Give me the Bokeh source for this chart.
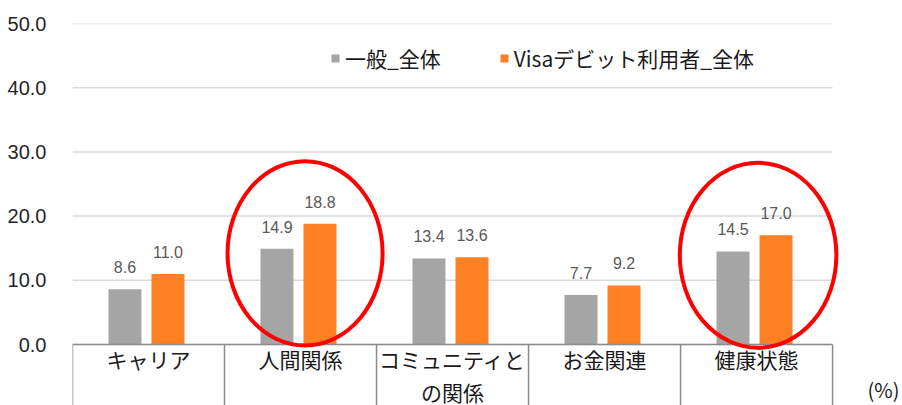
from bokeh.plotting import figure
from bokeh.models import (ColumnDataSource, FixedTicker, Legend, LegendItem,
                          Label, NumeralTickFormatter)
from bokeh.core.properties import value
from bokeh.embed import file_html
from bokeh.resources import INLINE

# ---- data ----
categories = ["キャリア", "人間関係", "コミュニティと\nの関係", "お金関連", "健康状態"]
general = [8.6, 14.9, 13.4, 7.7, 14.5]
visa = [11.0, 18.8, 13.6, 9.2, 17.0]
series_names = ["一般_全体", "Visaデビット利用者_全体"]
y_ticks = [0, 10, 20, 30, 40, 50]
highlight_idx = [1, 4]
highlight_cy = [14.2, 13.9]
highlight_w = [1.02, 1.03]
highlight_h = [28.7, 28.8]
highlight_dx = [0.03, 0.01]

GRAY = "#A5A5A5"
ORANGE = "#FD8022"
JP = "Noto Sans CJK JP"
NUM = "Liberation Sans"
Y_BOTTOM = -9.5   # room for the category boxes under the zero line
X_RIGHT = 4.96    # room for the "(%)" note right of the last box

n = len(categories)
idx = list(range(n))
left_edge, right_edge = -0.5, n - 0.5
off_g, off_v = -0.155, 0.128
bw = 0.217

src = ColumnDataSource(dict(
    xg=[i + off_g for i in idx], xv=[i + off_v for i in idx],
    g=general, v=visa,
    gl=[f"{x:.1f}" for x in general], vl=[f"{x:.1f}" for x in visa],
))

p = figure(width=902, height=405, x_range=(left_edge, X_RIGHT),
           y_range=(Y_BOTTOM, 50), output_backend="svg", toolbar_location=None,
           x_axis_location=None,
           min_border_left=72, min_border_right=0, min_border_top=23,
           min_border_bottom=0)
p.outline_line_color = None
p.background_fill_color = "white"
p.xgrid.grid_line_color = None
p.ygrid.grid_line_color = None

# horizontal gridlines over the category span only
p.segment(x0=[left_edge] * len(y_ticks), y0=y_ticks,
          x1=[right_edge] * len(y_ticks), y1=y_ticks,
          line_color="#D9D9D9", line_width=1.5)

rg = p.vbar(x="xg", top="g", bottom=0, width=bw, source=src, fill_color=GRAY, line_color=None)
rv = p.vbar(x="xv", top="v", bottom=0, width=bw, source=src, fill_color=ORANGE, line_color=None)

for xc, yc, tc in (("xg", "g", "gl"), ("xv", "v", "vl")):
    p.text(x=xc, y=yc, text=tc, source=src, text_align="center",
           text_baseline="alphabetic", y_offset=-22, text_font_size="16px",
           text_color="#595959", text_font=value(NUM))

# category boxes under the zero line
edges = [i - 0.5 for i in range(n + 1)]
p.segment(x0=edges, y0=[0] * len(edges), x1=edges, y1=[Y_BOTTOM] * len(edges),
          line_color="#8C8C8C", line_width=1.5)
p.segment(x0=[left_edge], y0=[0], x1=[right_edge], y1=[0],
          line_color="#8C8C8C", line_width=1.5)
p.text(x=idx, y=[0] * n, text=categories, text_align="center",
       text_baseline="top", y_offset=-1, text_font=value(JP),
       text_font_size="21px", text_color="#1a1a1a", text_line_height=1.12)

# highlight ellipses
p.ellipse(x=[idx[i] + d for i, d in zip(highlight_idx, highlight_dx)], y=highlight_cy,
          width=highlight_w, height=highlight_h, fill_color=None,
          line_color="#FF0000", line_width=4)

# y axis
p.yaxis.ticker = FixedTicker(ticks=y_ticks)
p.yaxis.formatter = NumeralTickFormatter(format="0.0")
p.yaxis.axis_line_color = None
p.yaxis.major_tick_line_color = None
p.yaxis.minor_tick_line_color = None
p.yaxis.major_label_standoff = 20
p.yaxis.major_label_text_font = NUM
p.yaxis.major_label_text_font_size = "20px"
p.yaxis.major_label_text_color = "#262626"

# legend
legend = Legend(items=[LegendItem(label=series_names[0], renderers=[rg]),
                       LegendItem(label=series_names[1], renderers=[rv])],
                orientation="horizontal", location=(258, 332),
                glyph_width=10, glyph_height=10, label_standoff=5, spacing=58,
                padding=0, margin=0, border_line_color=None,
                background_fill_alpha=0, label_text_font=JP,
                label_text_font_size="21px", label_text_color="#1a1a1a")
p.add_layout(legend)

p.add_layout(Label(x=right_edge, y=0, x_offset=35, y_offset=-45,
                   text="(%)", text_font=JP, text_font_size="20px",
                   text_baseline="middle", text_color="#1a1a1a"))

open("out.html", "w").write(file_html(p, INLINE))
